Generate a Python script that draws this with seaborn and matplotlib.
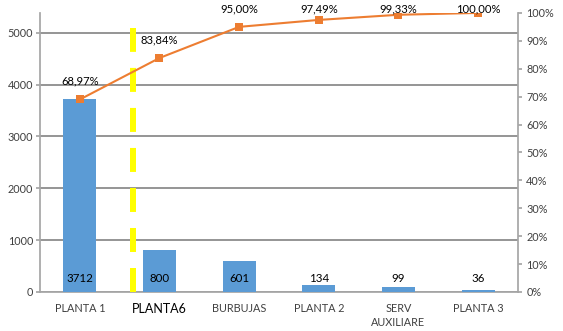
import matplotlib
matplotlib.use("Agg")
import matplotlib.pyplot as plt
import seaborn as sns
import pandas as pd
import numpy as np

categories = ["PLANTA 1", "PLANTA6", "BURBUJAS", "PLANTA 2", "SERV\nAUXILIARE", "PLANTA 3"]
counts = [3712, 800, 601, 134, 99, 36]
cum_pct = [68.97, 83.84, 95.00, 97.49, 99.33, 100.00]
left_ticks = [0, 1000, 2000, 3000, 4000, 5000]
right_ticks = list(range(0, 101, 10))

bar_color = "#5B9BD5"
line_color = "#ED7D31"
grid_color = "#8C8C8C"
text_color = "#404040"

sns.set_theme(style="white")
plt.rcParams["font.family"] = ["Lato", "DejaVu Sans"]

df = pd.DataFrame({"cat": categories, "count": counts, "pct": cum_pct})
total = sum(counts)

fig = plt.figure(figsize=(5.63, 3.31), dpi=100)
ax = fig.add_axes([0.071, 0.118, 0.849, 0.843])

sns.barplot(data=df, x="cat", y="count", color=bar_color, width=0.414,
            saturation=1, linewidth=0, ax=ax, zorder=3)
ax.set_ylim(0, total)
ax.set_xlim(-0.5, len(categories) - 0.5)
ax.set_yticks(left_ticks)
ax.set_yticklabels([str(t) for t in left_ticks], fontsize=7.8, color=text_color)
for t in left_ticks:
    ax.axhline(t, color=grid_color, lw=1.3, zorder=1)
ax.set_xlabel("")
ax.set_ylabel("")

# category boundary ticks on the x axis
ax.set_xticks(np.arange(len(categories)))
ax.set_xticklabels(categories, fontsize=7.8, color=text_color, linespacing=1.3)
for lbl in ax.get_xticklabels():
    if lbl.get_text() == "PLANTA6":
        lbl.set_fontsize(9)
        lbl.set_color("black")
ax.tick_params(axis="x", length=0, pad=8)
ax.set_xticks(np.arange(len(categories) + 1) - 0.5, minor=True)
ax.tick_params(axis="x", which="minor", length=4, color="#A6A6A6", width=0.8)
ax.tick_params(axis="y", length=3, color="#A6A6A6", pad=2)

for s in ["top", "right"]:
    ax.spines[s].set_visible(False)
ax.spines["left"].set_color("#A6A6A6")
ax.spines["bottom"].set_color("#A6A6A6")

# count labels near the bar base
for i, c in enumerate(counts):
    ax.annotate(str(c), (i, 0), xytext=(0, 6), textcoords="offset points",
                ha="center", va="bottom", fontsize=8.3, color="black", zorder=5)

# separator between vital few and the rest
ax.axvline(0.67, ymin=0, ymax=0.946, color="#FFFF00", lw=4.32,
           ls=(0, (4.0, 2.67)), solid_capstyle="butt", zorder=4)

ax2 = ax.twinx()
ax2.set_position(ax.get_position())
sns.lineplot(data=df, x="cat", y="pct", color=line_color, lw=1.5, marker="s",
             markersize=5.5, markeredgewidth=0, ax=ax2, zorder=5, sort=False)
ax2.set_ylim(0, 100)
ax2.set_yticks(right_ticks)
ax2.set_yticklabels([f"{t}%" for t in right_ticks], fontsize=7.8, color=text_color)
ax2.tick_params(axis="y", length=3, color="#A6A6A6", pad=3)
ax2.set_ylabel("")
ax2.set_xlabel("")
for s in ["top", "left", "bottom"]:
    ax2.spines[s].set_visible(False)
ax2.spines["right"].set_color("#A6A6A6")

for i, p in enumerate(cum_pct):
    y = min(p + 6.6, 101.3)
    ax2.text(i, y, f"{p:.2f}%".replace(".", ","), ha="center", va="center",
             fontsize=8.1, color="black", zorder=6, clip_on=False)

fig.savefig("out.png", dpi=100)
